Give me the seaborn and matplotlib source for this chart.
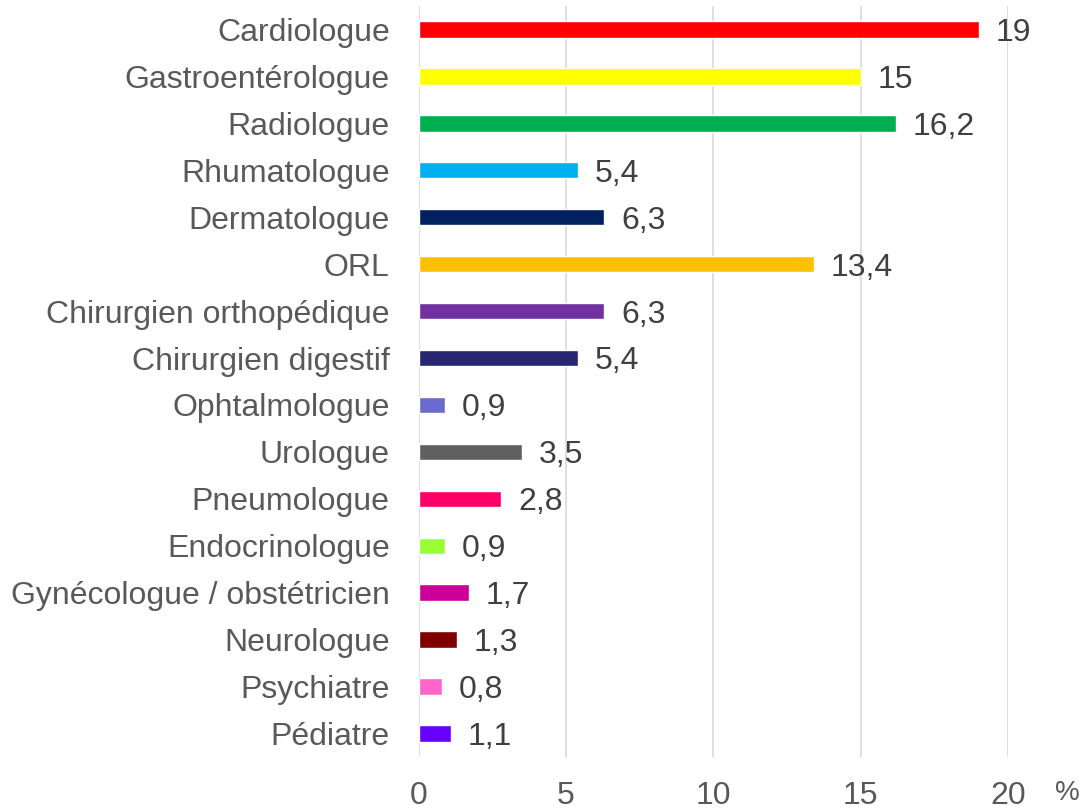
import pandas as pd
import matplotlib
matplotlib.use("Agg")
import matplotlib.pyplot as plt
import seaborn as sns

# données
specialites = ["Cardiologue", "Gastroentérologue", "Radiologue", "Rhumatologue",
               "Dermatologue", "ORL", "Chirurgien orthopédique", "Chirurgien digestif",
               "Ophtalmologue", "Urologue", "Pneumologue", "Endocrinologue",
               "Gynécologue / obstétricien", "Neurologue", "Psychiatre", "Pédiatre"]
pourcentages = [19, 15, 16.2, 5.4, 6.3, 13.4, 6.3, 5.4, 0.9, 3.5, 2.8, 0.9, 1.7, 1.3, 0.8, 1.1]
couleurs = ["#FF0000", "#FFFF00", "#00B050", "#00B0F0", "#002060", "#FFC000",
            "#7030A0", "#262671", "#6B6BCF", "#606060", "#FF0066", "#99FF33",
            "#CC0099", "#800000", "#FF66CC", "#6600FF"]
graduations = [0, 5, 10, 15, 20]

df = pd.DataFrame({"Specialite": specialites, "Pourcentage": pourcentages})

sns.set_style("white")
plt.rcParams["font.family"] = ["Liberation Sans", "DejaVu Sans"]

fig = plt.figure(figsize=(10.85, 8.11), dpi=100)
ax = fig.add_axes([0.386, 0.0666, 0.543, 0.926])

sns.barplot(data=df, x="Pourcentage", y="Specialite", hue="Specialite",
            palette=couleurs, legend=False, width=0.35, ax=ax, saturation=1)

# étiquettes de valeur
for i, v in enumerate(pourcentages):
    txt = f"{v:g}".replace(".", ",")
    ax.annotate(txt, (v, i), xytext=(12, -2.5), textcoords="offset points",
                va="center", ha="left", fontsize=23, color="#404040",
                annotation_clip=False)

ax.set_xlim(0, 20)
ax.set_ylim(15.5, -0.5)
ax.set_xticks(graduations)
ax.xaxis.grid(True, color="#D9D9D9", linewidth=1.2)
ax.set_axisbelow(True)
for s in ax.spines.values():
    s.set_visible(False)
ax.tick_params(axis="y", length=0, pad=21, labelsize=23, labelcolor="#595959")
ax.tick_params(axis="x", length=0, pad=17, labelsize=23, labelcolor="#595959")
ax.set_xlabel("")
ax.set_ylabel("")
fig.text(0.984, 0.006, "%", fontsize=20, color="#595959", ha="center", va="bottom")

fig.savefig("out.png", dpi=100)
